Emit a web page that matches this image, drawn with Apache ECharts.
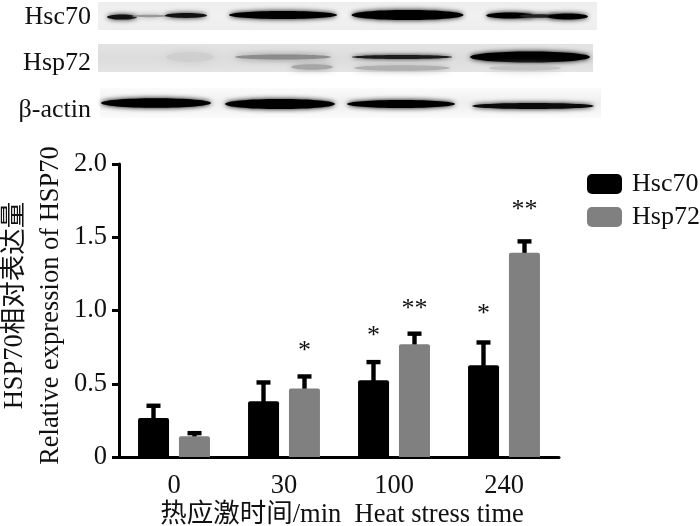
<!DOCTYPE html>
<html><head><meta charset="utf-8">
<style>html,body{margin:0;padding:0;background:#fff}#c{width:700px;height:526px}</style>
<script src="https://cdn.jsdelivr.net/npm/echarts@6/dist/echarts.min.js"></script>
</head><body><div id="c"></div>
<script>
const categories = ['0', '30', '100', '240'];
const hsc70 = [0.267, 0.38, 0.524, 0.626];
const hsp72 = [0.141, 0.467, 0.77, 1.394];
const hsc70Upper = [0.358, 0.517, 0.656, 0.79];
const hsp72Upper = [0.171, 0.558, 0.85, 1.48];
const hsc70Sig = ['', '', '*', '*'];
const hsp72Sig = ['', '*', '**', '**'];
const yTickLabels = {0: '0', 0.5: '0.5', 1: '1.0', 1.5: '1.5', 2: '2.0'};

const SERIF = '"Liberation Serif","Times New Roman",serif';
const CJK = '"Liberation Serif","Noto Sans CJK SC",serif';
const BLACK = '#000', GRAY = '#808080';
const FS = 26.5;

// western-blot panels above the plot (picture decoration, not data)
function panel(x, y, w, h, c1, c2) {
  return {type: 'rect', silent: true, z: 1, shape: {x, y, width: w, height: h},
    style: {fill: new echarts.graphic.LinearGradient(0, 0, 0, 1, [{offset: 0, color: c1}, {offset: .5, color: c2}, {offset: 1, color: c1}])}};
}
function band(cx, cy, rx, ry, color, blur) {
  return {type: 'ellipse', silent: true, z: 2, shape: {cx, cy, rx, ry},
    style: {fill: color, shadowBlur: blur === undefined ? 5 : blur, shadowColor: color}};
}
function tag(text, y) {
  return {type: 'text', silent: true, z: 3, x: 91, y,
    style: {text, font: '26px ' + SERIF, fill: '#111', align: 'right', verticalAlign: 'middle'}};
}
const decor = [
  panel(98, 2, 499, 28, '#ededed', '#f1f1f1'),
  panel(98, 44, 495, 28, '#e4e4e4', '#dcdcdc'),
  panel(100, 88, 501, 30, '#fbfbfb', '#eeeeee'),
  band(122, 17, 15, 2.6, '#111'), band(150, 16, 18, 1.2, '#999'), band(186, 15.5, 21, 2.4, '#111'),
  band(283, 15, 54, 4, '#000'), band(407.5, 15, 56, 5, '#000'),
  band(510, 15.5, 24, 3, '#000'), band(540, 16, 20, 1.8, '#222'), band(568, 16.5, 20, 3, '#000'),
  band(190, 57, 24, 5, '#cfcfcf', 8),
  band(283, 57, 48, 2.5, '#8c8c8c', 6), band(312, 67, 21, 2.8, '#a6a6a6', 6),
  band(402, 57, 50, 2, '#1c1c1c', 4), band(402, 68, 48, 2.8, '#b0b0b0', 6),
  band(530, 57, 60, 5.5, '#000'), band(525, 68, 36, 2.5, '#c4c4c4', 7),
  band(156, 103, 55, 4.8, '#000'), band(280, 104, 55, 5, '#000'),
  band(401, 104, 54, 4, '#000'), band(533, 106, 61, 3, '#0a0a0a')
];
const tags = [tag('Hsc70', 17), tag('Hsp72', 63), tag('\u03b2-actin', 110)];

// error bars + significance stars, positioned through the axes
function errSeries(name, values, upper, sig, sign, gaps) {
  return {
    type: 'custom', name, z: 3, silent: true,
    data: categories.map((c, i) => [i, values[i], upper[i]]),
    encode: {x: 0, y: [1, 2]},
    renderItem(params, api) {
      const i = api.value(0), bandW = api.size([1, 0])[0];
      const off = sign * bandW * 0.1864;
      const a = api.coord([i, api.value(1)]), b = api.coord([i, api.value(2)]);
      const x = a[0] + off;
      const kids = [
        {type: 'rect', shape: {x: x - 2.2, y: b[1], width: 4.4, height: a[1] - b[1] + 1}, style: {fill: BLACK}},
        {type: 'rect', shape: {x: x - 7, y: b[1] - 1, width: 14, height: 4.4}, style: {fill: BLACK}}
      ];
      const s = sig[i];
      if (s) kids.push({type: 'text', x: x, y: b[1] - gaps[i],
        style: {text: s, font: '26px ' + SERIF, fill: '#111', align: 'center', verticalAlign: 'middle'}});
      return {type: 'group', children: kids};
    }
  };
}

const chart = echarts.init(document.getElementById('c'), null, {renderer: 'canvas'});
chart.setOption({
  animation: false,
  backgroundColor: '#fff',
  textStyle: {fontFamily: SERIF},
  grid: {left: 119, top: 164, width: 440, height: 293, containLabel: false, outerBoundsMode: 'none'},
  legend: {
    left: 587, top: 171, orient: 'vertical', padding: 0, itemWidth: 35, itemHeight: 20, itemGap: 7,
    icon: 'roundRect', data: ['Hsc70', 'Hsp72'], selectedMode: false,
    textStyle: {fontFamily: SERIF, fontSize: 26, color: '#111', padding: [0, 0, 0, 5]}
  },
  xAxis: {
    type: 'category', data: categories,
    axisLine: {lineStyle: {color: '#000', width: 3}},
    axisTick: {alignWithLabel: true, length: 8, lineStyle: {color: '#000', width: 3}},
    axisLabel: {fontFamily: SERIF, fontSize: FS, color: '#111', margin: 16},
    name: '\u70ed\u5e94\u6fc0\u65f6\u95f4/min  Heat stress time',
    nameLocation: 'middle', nameGap: 45, nameMoveOverlap: false,
    nameTextStyle: {fontFamily: CJK, fontSize: FS, color: '#111', padding: [0, 0, 0, 6]}
  },
  yAxis: {
    type: 'value', min: 0, max: 2, interval: 0.5,
    splitLine: {show: false},
    axisLine: {show: true, lineStyle: {color: '#000', width: 3}},
    axisTick: {show: true, length: 7, lineStyle: {color: '#000', width: 3}},
    axisLabel: {fontFamily: SERIF, fontSize: FS, color: '#111', margin: 12, formatter: v => yTickLabels[v]},
    name: 'HSP70\u76f8\u5bf9\u8868\u8fbe\u91cf\nRelative expression of HSP70',
    nameLocation: 'middle', nameGap: 50, nameMoveOverlap: false,
    nameTextStyle: {fontFamily: CJK, fontSize: FS, color: '#111', lineHeight: 36, padding: [0, 0, 0, 10]}
  },
  series: [
    {name: 'Hsc70', type: 'bar', data: hsc70, barWidth: 31, barGap: '32%', itemStyle: {color: BLACK, borderRadius: [2, 2, 0, 0]}, z: 4},
    {name: 'Hsp72', type: 'bar', data: hsp72, barWidth: 31, barGap: '32%', itemStyle: {color: GRAY, borderRadius: [2, 2, 0, 0]}, z: 4},
    errSeries('Hsc70 error', hsc70, hsc70Upper, hsc70Sig, -1, [0, 0, 25, 27]),
    errSeries('Hsp72 error', hsp72, hsp72Upper, hsp72Sig, 1, [0, 24, 23, 30])
  ],
  graphic: decor.concat(tags)
});
</script></body></html>
